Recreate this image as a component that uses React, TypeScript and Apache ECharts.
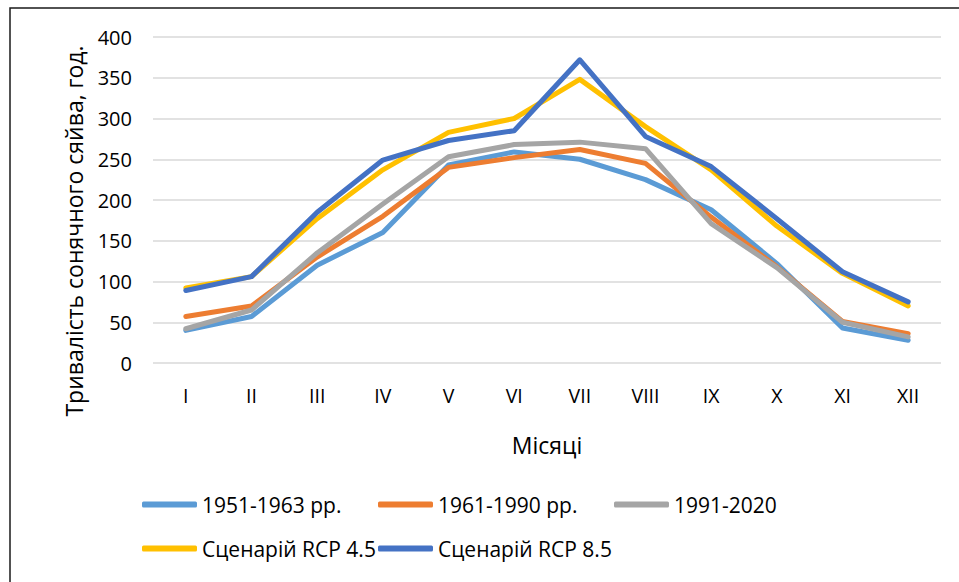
import React, { useEffect, useRef } from "react";
import * as echarts from "echarts";

const months = ["I", "II", "III", "IV", "V", "VI", "VII", "VIII", "IX", "X", "XI", "XII"];
const yTicks = [0, 50, 100, 150, 200, 250, 300, 350, 400];

const s1951 = [40, 57, 120, 160, 243, 259, 250, 225, 188, 122, 43, 28];
const s1961 = [57, 70, 130, 180, 240, 252, 262, 245, 179, 118, 51, 36];
const s1991 = [42, 65, 135, 195, 253, 268, 271, 263, 171, 117, 50, 32];
const rcp45 = [92, 106, 177, 237, 283, 300, 348, 290, 237, 168, 110, 70];
const rcp85 = [89, 106, 185, 249, 273, 285, 372, 278, 241, 177, 112, 75];

const names = ["1951-1963 рр.", "1961-1990 рр.", "1991-2020", "Сценарій RCP 4.5", "Сценарій RCP 8.5"];
const colors = ["#5B9BD5", "#ED7D31", "#A5A5A5", "#FFC000", "#4472C4"];
const seriesData = [s1951, s1961, s1991, rcp45, rcp85];
const yName = "Тривалість сонячного сяйва, год.";
const xName = "Місяці";

const FONT = "Open Sans";

export default function App() {
  const ref = useRef<HTMLDivElement>(null);
  useEffect(() => {
    if (!ref.current) return;
    const chart = echarts.init(ref.current, undefined, { renderer: "svg" });
    const legendPos = [
      { left: 142, top: 494 },
      { left: 378, top: 494 },
      { left: 614, top: 494 },
      { left: 142, top: 538 },
      { left: 378, top: 538 },
    ];
    chart.setOption({
      animation: false,
      backgroundColor: "#ffffff",
      graphic: [
        {
          type: "rect",
          shape: { x: 10, y: 8, width: 1000, height: 700 },
          style: { fill: "none", stroke: "#1a1a1a", lineWidth: 1.5 },
          silent: true,
        },
        {
          type: "text",
          x: 74,
          y: 231,
          rotation: Math.PI / 2,
          style: {
            text: yName,
            fontFamily: FONT,
            fontSize: 23,
            fill: "#000",
            textAlign: "center",
            textVerticalAlign: "middle",
          },
          silent: true,
        },
      ],
      grid: { left: 153, right: 18, top: 37, bottom: 219 },
      legend: names.map((n, i) => ({
        data: [n],
        left: legendPos[i].left,
        top: legendPos[i].top,
        padding: 0,
        icon: "roundRect",
        itemWidth: 55,
        itemHeight: 6,
        itemGap: 0,
        textStyle: { fontFamily: FONT, fontSize: 21, color: "#000" },
      })),
      xAxis: {
        type: "category",
        data: months,
        boundaryGap: true,
        name: xName,
        nameLocation: "middle",
        nameGap: 70,
        nameTextStyle: { fontFamily: FONT, fontSize: 23, color: "#000" },
        axisLine: { show: false },
        axisTick: { show: false },
        axisLabel: { fontFamily: FONT, fontSize: 19.5, color: "#000", margin: 22 },
      },
      yAxis: {
        type: "value",
        min: 0,
        max: 400,
        interval: 50,
        axisLine: { show: false },
        axisTick: { show: false },
        axisLabel: {
          fontFamily: FONT,
          fontSize: 20,
          color: "#000",
          margin: 21,
          formatter: (v: number) => (yTicks.includes(v) ? String(v) : ""),
        },
        splitLine: { lineStyle: { color: "#D9D9D9", width: 1.5 } },
      },
      series: names.map((n, i) => ({
        name: n,
        type: "line",
        data: seriesData[i],
        symbol: "none",
        color: colors[i],
        lineStyle: { color: colors[i], width: 5, cap: "round", join: "round" },
      })),
    });
    return () => chart.dispose();
  }, []);
  return <div ref={ref} style={{ width: 959, height: 582, position: "absolute", left: 0, top: 0 }} />;
}
